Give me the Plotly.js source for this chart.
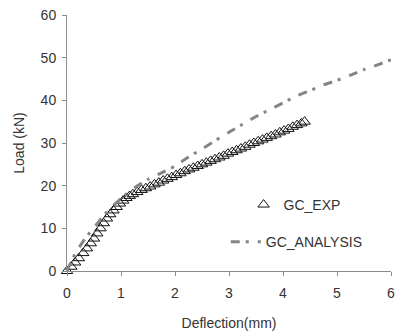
<!DOCTYPE html>
<html>
<head>
<meta charset="utf-8">
<script src="https://cdn.plot.ly/plotly-3.0.1.min.js"></script>
<style>html,body{margin:0;padding:0;background:#fff;}#chart{width:398px;height:333px;}</style>
</head>
<body>
<div id="chart"></div>
<script>
// GC_EXP series (deflection mm, load kN)
var expX = [0,0.08,0.15,0.22,0.3,0.37,0.44,0.5,0.56,0.62,0.68,0.74,0.8,0.86,0.92,0.98,1.04,1.1,1.16,1.22,1.3,1.38,1.46,1.54,1.62,1.7,1.78,1.86,1.94,2.02,2.1,2.18,2.26,2.34,2.42,2.5,2.58,2.66,2.74,2.82,2.9,2.98,3.06,3.14,3.22,3.3,3.38,3.46,3.54,3.62,3.7,3.78,3.86,3.94,4.02,4.1,4.18,4.26,4.34,4.4];
var expY = [0,1,2,3,4.2,5.3,6.5,7.6,8.8,10,11.2,12.3,13.3,14.2,15,15.8,16.5,17.1,17.6,18.0,18.5,19,19.4,19.8,20.3,20.7,21.2,21.6,22,22.5,22.9,23.4,23.8,24.2,24.6,25,25.4,25.8,26.2,26.6,27,27.5,27.9,28.3,28.7,29.1,29.6,30,30.4,30.8,31.2,31.6,32,32.5,32.9,33.3,33.8,34.2,34.6,35];
// GC_ANALYSIS series
var anaX = [0,0.15,0.33,0.52,0.75,1,1.25,1.5,1.75,2,2.25,2.5,2.75,3,3.25,3.5,3.75,4,4.25,4.5,4.75,5,5.25,5.5,5.75,6];
var anaY = [0,4,7.5,10.5,14,17,19.5,21.5,23,24.6,26.7,28.6,30.6,32.5,34.4,36.2,37.8,39.4,41,42.3,43.6,44.7,45.9,47.2,48.3,49.5];
var xTicks = [0,1,2,3,4,5,6];
var yTicks = [0,10,20,30,40,50,60];

var traces = [
  {
    x: expX, y: expY, name: 'GC_EXP', type: 'scatter', mode: 'markers',
    marker: {symbol: 'triangle-up-open', size: 10, color: '#111', line: {width: 1, color: '#111'}},
    cliponaxis: false, legend: 'legend'
  },
  {
    x: anaX, y: anaY, name: 'GC_ANALYSIS', type: 'scatter', mode: 'lines',
    line: {color: '#858585', width: 3, dash: '9px,6px,3px,9px', shape: 'spline', smoothing: 0.6},
    cliponaxis: false, legend: 'legend2'
  }
];

var axisCommon = {
  showgrid: false, zeroline: false, showline: true, linecolor: '#8c8c8c', linewidth: 1,
  ticks: 'outside', ticklen: 4, tickcolor: '#8c8c8c', tickwidth: 1,
  tickfont: {family: 'Liberation Sans, Arial, sans-serif', size: 14, color: '#333'}
};

var layout = {
  width: 398, height: 333,
  margin: {l: 67, r: 7, t: 15, b: 62},
  paper_bgcolor: '#fff', plot_bgcolor: '#fff',
  font: {family: 'Liberation Sans, Arial, sans-serif', size: 14, color: '#333'},
  xaxis: Object.assign({}, axisCommon, {
    range: [0, 6], tickvals: xTicks, ticktext: xTicks.map(String), ticklabelstandoff: 5,
    title: {text: 'Deflection(mm)', font: {size: 14, color: '#333'}, standoff: 18}
  }),
  yaxis: Object.assign({}, axisCommon, {
    range: [0, 60], tickvals: yTicks, ticktext: yTicks.map(String), ticklabelstandoff: 3,
    title: {text: 'Load (kN)', font: {size: 14, color: '#333'}, standoff: 12}
  }),
  showlegend: true,
  legend: {x: 0.545, y: 0.258, xanchor: 'left', yanchor: 'middle', bgcolor: 'rgba(0,0,0,0)',
    font: {size: 14, color: '#333'}},
  legend2: {x: 0.49, y: 0.113, xanchor: 'left', yanchor: 'middle', bgcolor: 'rgba(0,0,0,0)',
    font: {size: 14, color: '#333'}}
};

Plotly.newPlot('chart', traces, layout, {displayModeBar: false, staticPlot: true});
</script>
</body>
</html>
